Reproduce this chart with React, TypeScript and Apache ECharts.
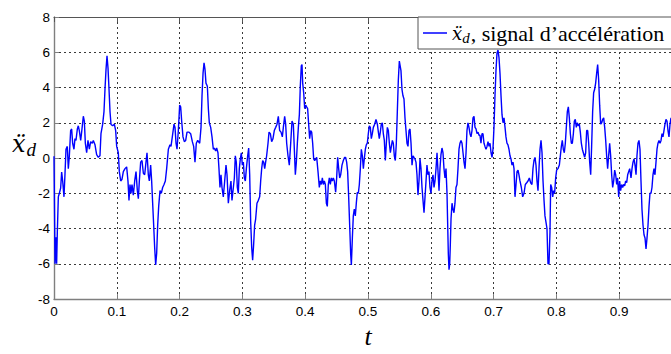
import React, { useEffect, useRef } from 'react';
import * as echarts from 'echarts';

// Acceleration signal: [t (s), x_dd]
const segment1: [number, number][] = [
  [0, 0.1], [0.0008, -2.9], [0.0016, -6.0], [0.0032, -4.5], [0.0042, -6.0], [0.0053, -4.2], [0.0069, -2.2],
  [0.0085, -2.0], [0.0106, -1.7], [0.0122, -0.8], [0.0138, -1.3], [0.0159, -2.2], [0.0175, -0.9], [0.0191, 0.5],
  [0.0212, 0.66], [0.0228, -0.6], [0.0244, 0.1], [0.0265, 1.56], [0.0281, 1.65], [0.0297, 0.84], [0.0318, 0.5],
  [0.0334, 1.1], [0.035, 1.0], [0.0372, 1.65], [0.0387, 1.83], [0.0403, 1.56], [0.0425, 1.0], [0.0441, 1.5],
  [0.0467, 2.37], [0.0483, 2.1], [0.0499, 0.84], [0.052, 0.3], [0.0541, 1.0], [0.0563, 0.5], [0.0584, 0.93],
  [0.061, 0.84], [0.0626, 1.0], [0.0653, 0.75], [0.0679, 0.2], [0.0706, 0.04], [0.0732, 0.13], [0.0748, 1.38],
  [0.0775, 1.92], [0.0796, 2.63], [0.0812, 3.9], [0.0828, 5.0], [0.0844, 5.8], [0.086, 5.1], [0.0876, 3.9],
  [0.0892, 2.63], [0.0908, 1.9], [0.0934, 1.83], [0.0961, 1.92], [0.0982, 1.56], [0.0998, 0.66], [0.1024, 0.3],
  [0.104, -0.77], [0.1062, -1.3], [0.1083, -1.2], [0.1104, -0.77], [0.1131, -0.6], [0.1157, -0.5], [0.1178, -1.3],
  [0.1194, -2.4], [0.121, -1.5], [0.1226, -2.0], [0.1242, -1.5], [0.1263, -2.1], [0.1285, -1.3], [0.1306, -0.77],
  [0.1327, -1.85], [0.1343, -2.3], [0.1359, -1.3], [0.138, -0.23], [0.1401, -0.14], [0.1423, -0.86], [0.1444, -0.95],
  [0.1465, -0.23], [0.1481, 0.3], [0.1502, -0.95], [0.1518, -1.3], [0.1539, -0.4], [0.1555, -1.3], [0.1571, -2.56],
  [0.1587, -3.8], [0.1603, -5.07], [0.1619, -6.06], [0.1635, -5.4], [0.1651, -3.8], [0.1667, -2.74], [0.1688, -1.85],
  [0.1709, -2.0], [0.173, -1.67], [0.1752, -1.5], [0.1773, -1.3], [0.1794, -0.6],
];

const segment2: [number, number][] = [
  [0.1821, 0.5], [0.1847, 0.75], [0.1863, 0.66], [0.1884, 1.2], [0.1911, 1.92], [0.1927, 1.74], [0.1943, 0.84],
  [0.1959, 0.5], [0.198, 1.56], [0.2001, 3.0], [0.2017, 2.9], [0.2033, 2.1], [0.2054, 1.2], [0.2075, 0.93],
  [0.2097, 1.0], [0.2118, 1.47], [0.215, 1.47], [0.2176, 1.38], [0.2203, 0.93], [0.2224, 0.66], [0.2245, -0.23],
  [0.2266, 0.84], [0.2288, 1.0], [0.232, 0.84], [0.2341, 1.74], [0.2357, 3.53], [0.2373, 4.8], [0.2389, 5.4],
  [0.2404, 5.05], [0.242, 4.25], [0.2442, 4.07], [0.2458, 2.8], [0.2473, 2.0], [0.2495, 1.74], [0.2516, 1.2],
  [0.2537, 0.5], [0.2553, 0.57], [0.2574, 0.4], [0.259, 0.57], [0.2611, 0.3], [0.2627, -0.6], [0.2643, -1.67],
  [0.2659, -0.95], [0.2675, -1.67], [0.2696, -2.2], [0.2718, -1.3], [0.2739, -0.4], [0.2755, -0.95], [0.2776, -2.56],
  [0.2797, -1.85], [0.2818, -1.3], [0.2834, -2.4], [0.2856, -1.67], [0.2872, -1.13], [0.2887, 0.13], [0.2903, -0.23],
  [0.2919, -1.67], [0.2935, -2.0], [0.2951, -0.6], [0.2967, -0.05], [0.2983, 0.3], [0.2999, -0.4], [0.3015, -0.23],
  [0.3031, -1.13], [0.3047, -1.3], [0.3063, -0.6], [0.3084, 0.13], [0.31, 0.57], [0.3116, -0.95], [0.3132, -3.64],
  [0.3148, -5.07], [0.3163, -5.8], [0.3179, -4.9], [0.3195, -3.8], [0.3211, -3.46], [0.3232, -2.56], [0.3254, -2.4],
  [0.3275, -2.2], [0.3291, -1.3], [0.3307, -0.6], [0.3323, -0.14], [0.3339, -0.23], [0.3355, -0.6], [0.337, -0.23],
  [0.3386, 0.13], [0.3408, 0.84], [0.3424, 1.47], [0.3445, 1.38], [0.3466, 0.93], [0.3487, 1.1], [0.3508, 1.56],
  [0.353, 1.74], [0.3551, 1.92], [0.3572, 2.37], [0.3593, 1.56], [0.3615, 1.47], [0.3636, 1.2],
];

const segment3: [number, number][] = [
  [0.3652, 1.74], [0.3673, 2.37], [0.3689, 1.92], [0.3705, 0.84], [0.3726, 0.13], [0.3747, -0.4], [0.3769, 0.84],
  [0.379, 2.1], [0.3811, 1.92], [0.3827, 0.5], [0.3843, -0.95], [0.3859, -0.23], [0.3875, 0.84], [0.3891, 1.74],
  [0.3907, 2.46], [0.3922, 4.07], [0.3938, 5.23], [0.3949, 5.3], [0.396, 4.25], [0.3976, 3.7], [0.3992, 2.8],
  [0.4008, 3.0], [0.4023, 2.9], [0.4039, 2.8], [0.4055, 1.92], [0.4071, 1.1], [0.4087, 1.56], [0.4103, 1.47],
  [0.4119, 0.84], [0.4135, -0.05], [0.4151, -0.14], [0.4167, -0.05], [0.4183, 0.04], [0.4204, -0.77], [0.4225, -1.67],
  [0.4241, -1.3], [0.4257, -1.5], [0.4273, -1.13], [0.4289, -1.5], [0.4305, -1.3], [0.4321, -1.5], [0.4337, -2.56],
  [0.4352, -2.74], [0.4368, -1.5], [0.4384, -1.13], [0.44, -1.5], [0.4416, -1.13], [0.4432, -1.3], [0.4448, -1.13],
  [0.4464, -1.3], [0.4485, -1.94], [0.4501, -1.13], [0.4517, 0.04], [0.4533, -0.6], [0.4549, -1.13], [0.4565, -0.95],
  [0.4586, -0.4], [0.4607, -0.14], [0.4628, 0.04], [0.4644, 0.04], [0.466, -0.23], [0.4676, -0.77], [0.4692, -2.2],
  [0.4708, -3.8], [0.4724, -5.43], [0.4735, -6.06], [0.4751, -4.53], [0.4766, -3.28], [0.4782, -2.9], [0.4798, -3.28],
  [0.4814, -2.56], [0.483, -1.94], [0.4846, -2.0], [0.4862, -1.5], [0.4878, -0.6], [0.4894, 0.5], [0.491, 0.13],
  [0.4926, -0.6], [0.4941, -0.05], [0.4958, 0.5], [0.4973, 0.75], [0.4989, 0.84], [0.5005, 1.38], [0.5021, 1.83],
  [0.5037, 1.74], [0.5053, 1.1], [0.5069, 1.38], [0.5085, 1.74], [0.5106, 1.92], [0.5127, 2.19], [0.5149, 1.92],
  [0.5165, 1.47], [0.518, 1.1], [0.5196, 1.47], [0.5212, 1.92], [0.5228, 2.0], [0.5244, 1.38], [0.526, 1.0],
  [0.5276, -0.14], [0.5292, 0.84], [0.5308, 1.74], [0.5324, 1.56], [0.534, 0.84], [0.5356, 0.3], [0.5372, 0.66],
  [0.5388, 1.0], [0.5403, 0.84], [0.5419, 0.13], [0.5435, -0.14], [0.5451, 0.84], [0.5467, 2.63], [0.5483, 4.43],
  [0.5499, 5.5],
];

const segment4: [number, number][] = [
  [0.551, 5.5], [0.5525, 4.96], [0.5541, 3.9], [0.5557, 3.53], [0.5573, 3.35], [0.5589, 2.28], [0.5605, 1.56],
  [0.5621, 0.84], [0.5637, 0.66], [0.5653, 1.56], [0.5669, 1.65], [0.5685, 0.84], [0.5701, -0.4], [0.5717, 0.13],
  [0.5732, 0.04], [0.5748, -0.05], [0.5764, -0.23], [0.578, -0.95], [0.5796, -2.1], [0.5812, -1.3], [0.5828, -0.05],
  [0.5844, -0.6], [0.586, -1.67], [0.5876, -2.4], [0.5892, -3.1], [0.5908, -2.2], [0.5924, -1.3], [0.5939, -0.4],
  [0.5955, -0.95], [0.5971, -0.77], [0.5987, -1.67], [0.6003, -2.0], [0.6019, -1.3], [0.6035, -0.95], [0.6051, -1.67],
  [0.6067, -1.3], [0.6083, -0.6], [0.6099, 0.3], [0.6115, -0.77], [0.6131, -1.85], [0.6146, -0.6], [0.6162, 0.2],
  [0.6178, 0.57], [0.6194, 0.3], [0.621, -0.6], [0.6226, -1.13], [0.6242, -0.6], [0.6258, -2.0], [0.6268, -3.64],
  [0.6279, -5.43], [0.629, -6.33], [0.6301, -6.0], [0.6311, -4.9], [0.6322, -3.46], [0.6338, -2.56], [0.6354, -2.92],
  [0.6369, -3.1], [0.6385, -2.56], [0.6401, -1.67], [0.6417, -1.5], [0.6433, -0.6], [0.6449, 0.5], [0.6465, 0.84],
  [0.6481, 1.0], [0.6497, 0.84], [0.6513, 0.3], [0.6529, -0.23], [0.6545, -0.6], [0.6561, 0.3], [0.6576, 1.56],
  [0.6592, 2.0], [0.6608, 1.74], [0.6624, 1.38], [0.664, 1.2], [0.6656, 1.56], [0.6672, 2.28], [0.6688, 2.37],
  [0.6704, 1.74], [0.672, 1.65], [0.6736, 1.38], [0.6752, 1.47], [0.6768, 1.29], [0.6783, 1.29], [0.6799, 0.84],
  [0.6815, 1.38], [0.6831, 1.38], [0.6847, 0.84], [0.6863, 0.66], [0.6879, 0.5], [0.6895, 0.66], [0.6911, 0.93],
  [0.6927, 0.66], [0.6943, 0.84], [0.6959, 0.3], [0.6975, 0.04], [0.699, 0.5], [0.7006, 1.74], [0.7022, 3.53],
  [0.7038, 4.96], [0.7054, 5.95], [0.707, 6.13], [0.7086, 5.7], [0.7102, 4.8], [0.7118, 3.53], [0.7134, 2.46],
  [0.715, 2.0], [0.7166, 2.28], [0.7182, 1.74], [0.7197, 1.2], [0.7213, 0.84], [0.7229, 0.75], [0.7245, 0.5],
  [0.7261, 0.13], [0.7277, -0.05], [0.7293, -0.4], [0.7309, -0.23], [0.7325, -0.6],
];

const segment5: [number, number][] = [
  [0.7341, -2.2], [0.7357, -1.5], [0.7373, -0.77], [0.7389, -0.68], [0.7404, -0.95], [0.742, -1.3], [0.7442, -1.67],
  [0.7463, -2.2], [0.7484, -2.0], [0.7505, -1.5], [0.7527, -1.4], [0.7548, -1.3], [0.7569, -1.13], [0.759, -1.4],
  [0.7611, -1.5], [0.7627, -0.6], [0.7643, -0.14], [0.7659, 0.04], [0.7675, -0.4], [0.7691, -1.3], [0.7707, -1.85],
  [0.7723, -0.6], [0.7739, 0.5], [0.7755, 1.0], [0.7771, 0.3], [0.7787, -1.3], [0.7803, -2.4], [0.7818, -3.28],
  [0.7834, -3.64], [0.785, -4.0], [0.7866, -6.0], [0.7882, -6.0], [0.7898, -4.2], [0.7909, -1.5], [0.7925, -1.67],
  [0.7941, -2.2], [0.7956, -1.85], [0.7972, -2.0], [0.7988, -1.13], [0.8004, -0.68], [0.8025, -0.6], [0.8047, -0.4],
  [0.8063, 0.13], [0.8079, 0.66], [0.8094, 1.0], [0.811, 0.5], [0.8126, 0.3], [0.8142, 0.84], [0.8158, 1.74],
  [0.8174, 2.63], [0.819, 2.9], [0.8206, 2.28], [0.8222, 1.38], [0.8238, 0.84], [0.8254, 0.84], [0.827, 1.38],
  [0.8286, 2.1], [0.8301, 2.19], [0.8317, 1.74], [0.8333, 2.0], [0.8349, 1.83], [0.8365, 1.92], [0.8381, 1.47],
  [0.8397, 0.84], [0.8413, 0.5], [0.8429, 0.3], [0.845, 0.04], [0.8466, 0.3], [0.8482, 1.56], [0.8498, 1.56],
  [0.8514, 0.84], [0.853, -0.23], [0.8546, -0.95], [0.8561, 0.66], [0.8577, 2.63], [0.8593, 3.7], [0.8609, 3.9],
  [0.8625, 4.25], [0.8641, 4.8], [0.8657, 5.3], [0.8673, 4.43], [0.8689, 3.0], [0.8705, 1.92], [0.8721, 2.0],
  [0.8737, 2.19], [0.8753, 2.28], [0.8769, 1.74], [0.8785, 1.0], [0.88, 0.13], [0.8816, -0.6], [0.8832, 0.13],
  [0.8848, 0.84], [0.8864, 0.13], [0.888, -0.95], [0.8896, -1.67], [0.8912, -1.3], [0.8928, -0.68], [0.8944, -0.95],
  [0.896, -1.5], [0.8975, -1.13], [0.8992, -2.2], [0.9007, -1.3], [0.9023, -1.85], [0.9039, -1.5], [0.9055, -1.67],
  [0.9071, -1.5], [0.9087, -1.58], [0.9103, -1.3], [0.9119, -1.4], [0.9135, -0.95], [0.9151, -0.77], [0.9167, -0.6],
];

const segment6: [number, number][] = [
  [0.9188, -1.13], [0.9204, -0.6], [0.922, -0.23], [0.9236, -0.05], [0.9252, -0.4], [0.9268, -0.95], [0.9283, 0.13],
  [0.9299, 0.84], [0.9315, 1.0], [0.9331, 0.5], [0.9347, -1.3], [0.9363, -2.92], [0.9379, -3.8], [0.9395, -4.35],
  [0.9411, -4.53], [0.9427, -5.16], [0.9443, -4.53], [0.9459, -3.8], [0.9475, -2.74], [0.949, -2.0], [0.9506, -2.0],
  [0.9522, -1.67], [0.9538, -0.95], [0.9554, -0.6], [0.957, -0.95], [0.9586, -0.23], [0.9602, 0.5], [0.9618, 0.84],
  [0.9634, 1.0], [0.965, 0.84], [0.9666, 1.0], [0.9682, 1.38], [0.9697, 1.2], [0.9713, 1.56], [0.9729, 1.92],
  [0.9745, 2.19], [0.9761, 2.1], [0.9777, 1.56], [0.9793, 1.2], [0.9809, 1.92], [0.9825, 2.28],
];

const signal: [number, number][] = [
  ...segment1, ...segment2, ...segment3, ...segment4, ...segment5, ...segment6,
];

const seriesName = 'acc';
const legendLabel = '{x|ẍ}{s|d}{n|, signal d\u2019accélération}';
const yLabel = '{x|ẍ}{s|d}';
const xLabel = 't';

const serif = "'Liberation Serif', 'DejaVu Serif', 'Times New Roman', serif";
const mathSerif = "'DejaVu Serif', 'Liberation Serif', serif";
const sans = "'Liberation Sans', Arial, Helvetica, sans-serif";

export default function App() {
  const ref = useRef<HTMLDivElement>(null);
  useEffect(() => {
    if (!ref.current) return;
    const chart = echarts.init(ref.current, null, { renderer: 'svg' });
    const axisGray = '#7f7f7f';
    const gridLine = { show: true, lineStyle: { color: '#3a3a3a', type: [2, 3] as any, width: 1 } };
    chart.setOption({
      animation: false,
      backgroundColor: '#ffffff',
      grid: { left: 54, right: 18, top: 17, bottom: 39, containLabel: false },
      xAxis: [
        {
          type: 'value', min: 0, max: 1, interval: 0.1, position: 'bottom',
          name: xLabel, nameLocation: 'middle', nameGap: 14,
          nameTextStyle: { fontFamily: serif, fontStyle: 'italic', fontSize: 26, color: '#000' },
          axisLine: { show: true, onZero: false, lineStyle: { color: axisGray, width: 1.4 } },
          axisTick: { show: true, inside: true, length: 5, lineStyle: { color: axisGray } },
          axisLabel: { color: '#000', fontFamily: sans, fontSize: 13.5, margin: 5, showMaxLabel: false },
          splitLine: gridLine,
        },
        {
          type: 'value', min: 0, max: 1, interval: 0.1, position: 'top',
          axisLine: { show: true, onZero: false, lineStyle: { color: '#555', width: 1 } },
          axisTick: { show: true, inside: true, length: 5, lineStyle: { color: '#555' } },
          axisLabel: { show: false },
          splitLine: { show: false },
        },
      ],
      yAxis: {
        type: 'value', min: -8, max: 8, interval: 2,
        axisLine: { show: true, onZero: false, lineStyle: { color: axisGray, width: 1.4 } },
        axisTick: { show: true, inside: true, length: 5, lineStyle: { color: axisGray } },
        axisLabel: { color: '#000', fontFamily: sans, fontSize: 13.5, margin: 4 },
        splitLine: gridLine,
      },
      legend: {
        left: 418, top: 17,
        padding: [4, 30, 4, 5],
        itemWidth: 24, itemHeight: 1.5,
        icon: 'rect',
        backgroundColor: '#ffffff', borderColor: '#555', borderWidth: 1, borderRadius: 0,
        selectedMode: false,
        data: [seriesName],
        formatter: () => legendLabel,
        textStyle: {
          color: '#000',
          rich: {
            x: { fontFamily: mathSerif, fontStyle: 'italic', fontSize: 18, lineHeight: 24, color: '#000' },
            s: { fontFamily: serif, fontStyle: 'italic', fontSize: 15, lineHeight: 15, padding: [9, 1, 0, 0], color: '#000' },
            n: { fontFamily: serif, fontSize: 22, lineHeight: 24, color: '#000' },
          },
        },
      },
      graphic: [
        {
          type: 'text', left: 12, top: 129, z: 10,
          style: {
            text: yLabel,
            rich: {
              x: { fontFamily: mathSerif, fontStyle: 'italic', fontSize: 24, lineHeight: 30, fill: '#000' },
              s: { fontFamily: serif, fontStyle: 'italic', fontSize: 19, lineHeight: 19, padding: [11, 0, 0, 1], fill: '#000' },
            },
          },
        },
      ],
      series: [
        {
          type: 'line', name: seriesName, data: signal, xAxisIndex: 0,
          showSymbol: false, symbol: 'none',
          lineStyle: { color: '#0000ff', width: 1.4 },
          itemStyle: { color: '#0000ff' },
        },
      ],
    });
    return () => chart.dispose();
  }, []);
  return (
    <div style={{ position: 'absolute', left: 0, top: 0, width: 671, height: 354, overflow: 'hidden', background: '#fff' }}>
      <div ref={ref} style={{ width: 700, height: 354 }} />
    </div>
  );
}
